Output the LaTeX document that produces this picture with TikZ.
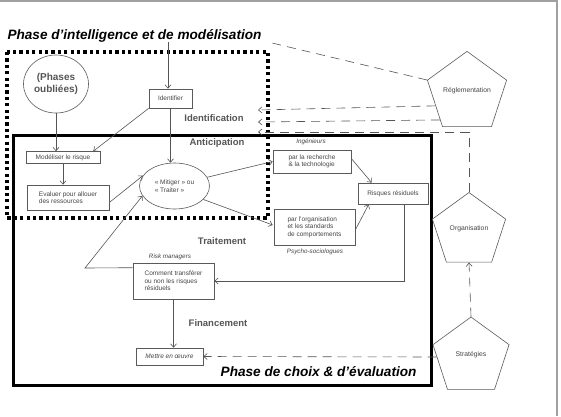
\documentclass[tikz,border=0pt]{standalone}
\usepackage{fontspec}
\setmainfont{Liberation Sans}
\usetikzlibrary{arrows.meta,shapes.geometric,calc}
\definecolor{boxc}{HTML}{5A5A5A}
\definecolor{linec}{HTML}{555555}
\definecolor{txtc}{HTML}{444444}
\definecolor{labc}{HTML}{555555}
\definecolor{framec}{HTML}{A0A0A0}
\begin{document}
\begin{tikzpicture}[x=1pt,y=-1pt,
  box/.style={draw=boxc, line width=0.6pt, fill=white, inner sep=1pt,
    font=\fontsize{6.5}{7.6}\selectfont, text=txtc, align=left},
  oval/.style={box, ellipse, align=center},
  penta/.style={draw=boxc, line width=0.6pt, regular polygon, regular polygon sides=5,
    inner sep=0pt, font=\fontsize{6.8}{7.8}\selectfont, text=txtc},
  arr/.style={draw=linec, line width=0.6pt, -{Straight Barb[length=3.5pt,width=6pt]}},
  plain/.style={draw=linec, line width=0.6pt},
  darr/.style={arr, dash pattern=on 9pt off 6pt},
  dplain/.style={plain, dash pattern=on 9pt off 6pt},
  lab/.style={font=\bfseries\fontsize{9.5}{11}\selectfont, text=labc},
  role/.style={font=\itshape\fontsize{6.3}{7.3}\selectfont, text=txtc},
  phase/.style={font=\bfseries\itshape\fontsize{13.6}{15}\selectfont, text=black}
]
\useasboundingbox (0,0) rectangle (561,416);
\fill[white] (0,0) rectangle (561,416);
% frame
\draw[framec, line width=2pt] (0,1) -- (557,1) -- (557,416);

% phase boxes
\draw[black, line width=3.2pt, dash pattern=on 3.2pt off 3.2pt] (7,52) rectangle (268,218);
\draw[black, line width=3pt] (13,135) rectangle (431,385);

\node[phase, anchor=west] (t1) at (4,36) {Phase d’intelligence et de modélisation};
\node[phase, anchor=east] (t2) at (420,372) {Phase de choix \& d’évaluation};

% nodes
\node[oval, minimum width=65pt, minimum height=58pt, font=\bfseries\fontsize{10}{11.5}\selectfont, text=labc] (phases) at (56,84) {(Phases\\oubliées)};
\node[box, minimum width=43pt, minimum height=19pt, align=center] (ident) at (170.5,98.5) {Identifier};
\node[box, minimum width=74pt, minimum height=12pt] (model) at (63,157.5) {Modéliser le risque};
\node[box, minimum width=82pt, minimum height=25pt] (eval) at (68,197.5) {Evaluer pour allouer\\des ressources};
\node[oval, minimum width=70pt, minimum height=46pt, align=left] (mitig) at (174.5,186) {« Mitiger » ou\\« Traiter »};
\node[box, minimum width=78pt, minimum height=23pt] (rech) at (312,161.5) {par la recherche\\\& la technologie};
\node[box, minimum width=81pt, minimum height=36pt] (orgb) at (314.5,227) {par l’organisation\\et les standards\\de comportements};
\node[box, minimum width=70pt, minimum height=21pt, align=center] (resid) at (393,193.5) {Risques résiduels};
\node[box, minimum width=81pt, minimum height=36pt] (comm) at (173.5,281) {Comment transférer\\ou non les risques\\résiduels};
\node[box, minimum width=67pt, minimum height=17pt, align=center, font=\itshape\fontsize{6.5}{7.6}\selectfont] (mettre) at (169.5,356.5) {Mettre en œuvre};

\node[penta, minimum size=77pt] (regl) at (467,93) {\raisebox{7pt}{Réglementation}};
\node[penta, minimum size=77pt] (org) at (469,231) {\raisebox{5pt}{Organisation}};
\node[penta, minimum size=80pt] (strat) at (471,357) {\raisebox{6pt}{Stratégies}};

% labels
\node[lab] (lident) at (214,118) {Identification};
\node[lab] (lantic) at (217,143) {Anticipation};
\node[lab] (ltrait) at (222,241) {Traitement};
\node[lab] (lfin) at (218,323) {Financement};
\node[role] (ling) at (311,142) {Ingénieurs};
\node[role] (lpsy) at (315,252) {Psycho-sociologues};
\node[role] (lrisk) at (170,257) {Risk managers};

% connectors
\coordinate (idtop) at (168,42);
\draw[arr] (idtop) -- (idtop |- ident.north);
\draw[arr] (phases.south) -- (phases.south |- model.north);
\draw[arr] (ident.south west) -- ($(model.north east)+(-7,0)$);
\draw[arr] (ident.south) -- (ident.south |- mitig.north);
\draw[arr] (model.south) -- (model.south |- eval.north);
\draw[arr] ($(eval.east)+(0,5)$) -- (mitig.162);
\coordinate (tk) at (85,268);
\draw[arr] ($(comm.north west)+(0,5)$) -- (tk) -- (mitig.197);
\draw[arr] (mitig.15) -- (rech.west);
\draw[arr] (mitig.-25) -- ($(orgb.west)+(-1,-2)$);
\draw[arr] ($(rech.east)+(0,-3)$) -- ($(resid.north west)+(14,0)$);
\draw[arr] ($(orgb.east)+(0,3)$) -- ($(resid.south west)+(11,0)$);
\coordinate (rs) at ($(resid.south east)+(-24,0)$);
\draw[arr] (rs) |- (comm.east);
\draw[arr] (comm.south) -- (comm.south |- mettre.north);

% dashed links from the pentagons
\coordinate (c0) at (272,43);
\coordinate (c1) at (258,110);
\coordinate (c2) at (258,122);
\coordinate (c3) at (258,132);
\draw[dplain] (regl.corner 2) -- (c0);
\draw[darr] ($(regl.corner 2)!0.55!(regl.corner 3)$) -- (c1);
\draw[darr] ($(regl.corner 2)!0.85!(regl.corner 3)$) -- (c2);
\draw[darr] (org.corner 1) |- (c3);
\draw[darr] (strat.corner 1) -- (org.south);
\draw[darr] (strat.west) -- (mettre.east);
\end{tikzpicture}
\end{document}
